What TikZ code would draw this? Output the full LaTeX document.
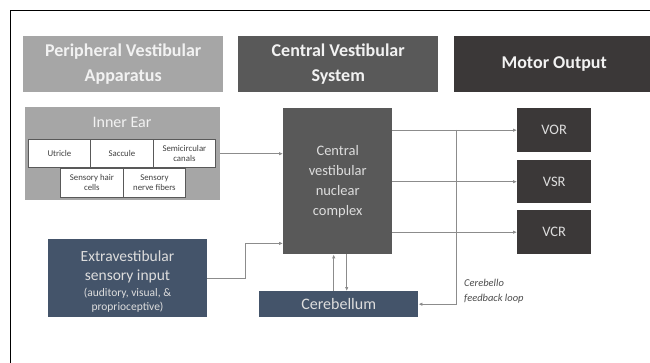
\documentclass[tikz,border=0pt]{standalone}
\usepackage{fontspec}
\setmainfont{Carlito}
\usetikzlibrary{arrows.meta}
\definecolor{lgray}{HTML}{A6A6A6}
\definecolor{mgray}{HTML}{595959}
\definecolor{dgray}{HTML}{3B3838}
\definecolor{slate}{HTML}{44546A}
\definecolor{linec}{HTML}{8C8C8C}
\definecolor{txt}{HTML}{DDDDDD}
\definecolor{htxt}{HTML}{F2F2F2}
\begin{document}
\begin{tikzpicture}[x=1pt,y=-1pt,
  hdr/.style={anchor=north west, inner sep=0pt, align=center, text=htxt,
    minimum width=200pt, minimum height=56pt,
    font=\fontsize{18}{25}\selectfont\bfseries},
  blk/.style={anchor=north west, inner sep=0pt, align=center, text=txt},
  wbox/.style={anchor=north west, inner sep=0pt, align=center, fill=white,
    draw=mgray, line width=0.8pt, font=\fontsize{8.8}{10}\selectfont, text=black!75},
  arr/.style={draw=linec, line width=0.9pt, -{Latex[length=4pt,width=3.5pt]}},
  ln/.style={draw=linec, line width=0.9pt}]
\path[use as bounding box] (0,0) rectangle (650,363);
% frame
\draw[line width=0.9pt] (10,363) -- (10,10) -- (650,10);
% headers
\node[hdr, fill=lgray] (ph) at (23,36) {Peripheral Vestibular\\Apparatus};
\node[hdr, fill=mgray] (ch) at (238,36) {Central Vestibular\\System};
\node[hdr, fill=dgray] (mh) at (454,36) {Motor Output};
% inner ear
\node[blk, fill=lgray, minimum width=195pt, minimum height=93pt] (ie) at (25,107) {};
\node[text=htxt, font=\fontsize{16}{18}\selectfont, inner sep=0pt] (iet) at (122,122) {Inner Ear};
\node[wbox, minimum width=62pt, minimum height=28pt] (utr) at (28,139) {Utricle};
\node[wbox, minimum width=63pt, minimum height=28pt] (sac) at (90,139) {Saccule};
\node[wbox, minimum width=62pt, minimum height=28pt] (sem) at (153,139) {Semicircular\\canals};
\node[wbox, minimum width=63pt, minimum height=29pt] (hair) at (60,168) {Sensory hair\\cells};
\node[wbox, minimum width=62pt, minimum height=29pt] (nerve) at (123,168) {Sensory\\nerve fibers};
% central complex
\node[blk, fill=mgray, minimum width=109pt, minimum height=146pt,
  font=\fontsize{14.5}{20}\selectfont] (cv) at (283,108) {Central\\vestibular\\nuclear\\complex};
% motor outputs
\node[blk, fill=dgray, minimum width=74pt, minimum height=44pt, font=\fontsize{14.5}{16}\selectfont] (vor) at (517,108) {VOR};
\node[blk, fill=dgray, minimum width=74pt, minimum height=43pt, font=\fontsize{14.5}{16}\selectfont] (vsr) at (517,160) {VSR};
\node[blk, fill=dgray, minimum width=74pt, minimum height=44pt, font=\fontsize{14.5}{16}\selectfont] (vcr) at (517,210) {VCR};
% extravestibular
\node[blk, fill=slate, minimum width=159pt, minimum height=78pt] (ex) at (48,239) {};
\node[text=txt, align=center, inner sep=0pt, font=\fontsize{15.5}{19}\selectfont] (ext1) at (127.5,266.5) {Extravestibular\\sensory input};
\node[text=txt, align=center, inner sep=0pt, font=\fontsize{11.5}{14}\selectfont] (ext2) at (127.5,300.5) {(auditory, visual, \&\\proprioceptive)};
% cerebellum
\node[blk, fill=slate, minimum width=159pt, minimum height=26pt, font=\fontsize{16}{18}\selectfont] (cb) at (259,291) {Cerebellum};
% feedback label
\node[anchor=west, inner sep=0pt, align=left, text=black!70,
  font=\fontsize{10.5}{15}\selectfont\itshape] (fbl) at (464,291) {Cerebello\\feedback loop};
% connectors
\draw[arr] (ie.east) -- (ie.east -| cv.west);
\draw[arr] (vor.west -| cv.east) -- (vor.west);
\draw[arr] (vsr.west -| cv.east) -- (vsr.west);
\draw[arr] (vcr.west -| cv.east) -- (vcr.west);
\coordinate (fb) at (456,130);
\draw[arr] (fb) |- (cb.east);
\draw[arr] (ex.east) -- ++(38,0) |- ([yshift=11pt]cv.south west);
\draw[arr] ([xshift=-4pt]cv.south |- cb.north) -- ([xshift=-4pt]cv.south);
\draw[arr] ([xshift=9pt]cv.south) -- ([xshift=9pt]cv.south |- cb.north);
\end{tikzpicture}
\end{document}
